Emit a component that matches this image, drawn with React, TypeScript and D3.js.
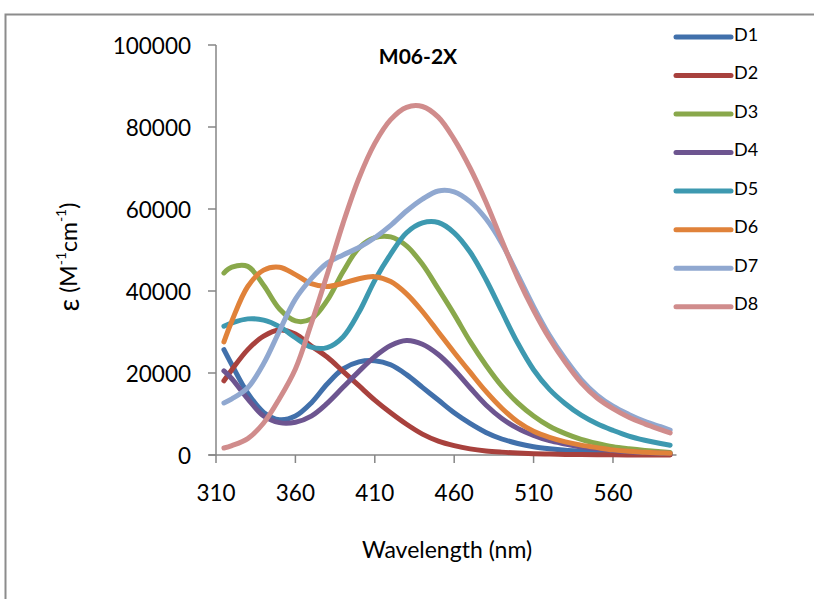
import React from "react";
import * as d3 from "d3";

const wavelengths = [315, 320, 330, 340, 350, 360, 370, 380, 390, 400, 410, 420, 430, 440, 450, 460, 470, 480, 490, 500, 510, 520, 530, 540, 550, 560, 570, 580, 590, 596];

const D1 = [25700, 22000, 15100, 10400, 8600, 9500, 12700, 17300, 21000, 22700, 23000, 22000, 19600, 16500, 13400, 10300, 7700, 5500, 3900, 2800, 2000, 1500, 1150, 950, 780, 600, 480, 380, 280, 200];
const D2 = [18100, 20800, 25700, 29000, 30500, 29500, 26600, 23900, 20400, 16900, 13400, 10300, 7500, 5100, 3400, 2300, 1500, 1000, 700, 480, 330, 220, 150, 100, 60, 40, 20, 10, 0, 0];
const D3 = [44400, 45800, 46000, 41400, 35600, 32700, 33200, 37700, 44700, 50500, 53000, 53200, 51000, 46500, 40500, 34300, 27700, 21900, 16800, 12700, 9500, 7000, 5200, 3800, 2800, 2000, 1500, 1100, 800, 600];
const D4 = [20500, 18600, 13700, 9500, 7900, 8000, 9500, 12600, 16500, 20400, 24000, 26700, 27900, 27000, 24500, 20800, 16400, 12200, 8900, 6500, 4800, 3500, 2700, 2000, 1500, 1100, 800, 600, 450, 400];
const D5 = [31400, 32200, 33200, 32900, 31300, 28600, 26300, 26200, 28800, 34800, 42600, 49000, 54200, 56600, 56700, 54200, 49500, 42800, 35000, 27300, 20800, 16000, 12500, 9700, 7600, 6000, 4600, 3600, 2800, 2400];
const D6 = [27600, 32700, 41100, 45100, 45800, 44000, 41800, 41100, 41900, 43000, 43500, 42300, 39300, 35000, 30000, 25000, 20200, 15500, 11400, 8100, 5800, 4300, 3200, 2400, 1800, 1250, 900, 700, 500, 400];
const D7 = [12700, 13700, 16400, 22300, 30300, 38000, 43000, 46800, 48800, 50600, 53000, 56000, 59500, 62400, 64400, 64200, 61800, 57600, 51600, 44000, 36200, 29200, 23400, 18400, 14600, 11900, 9900, 8200, 6900, 6100];
const D8 = [1700, 2300, 4000, 7800, 13800, 21000, 32000, 44000, 56500, 67500, 76000, 81800, 84800, 85000, 82400, 77000, 70000, 61700, 52300, 43200, 35300, 28400, 22600, 17600, 13900, 11300, 9200, 7600, 6200, 5400];

const seriesNames = ["D1", "D2", "D3", "D4", "D5", "D6", "D7", "D8"];
const seriesValues = [D1, D2, D3, D4, D5, D6, D7, D8];
const seriesColors = ["#4170ab", "#a8413d", "#89a84b", "#6d5590", "#3d99b0", "#e0823a", "#90a8d0", "#d08c8c"];

const xTicks = [310, 360, 410, 460, 510, 560];
const yTicks = [0, 20000, 40000, 60000, 80000, 100000];

const title = "M06-2X";
const xTitle = "Wavelength (nm)";

export default function App() {
  const width = 814;
  const height = 599;
  const x = d3.scaleLinear().domain([310, 600]).range([216, 676.5]);
  const y = d3.scaleLinear().domain([0, 100000]).range([455, 45]);
  const line = d3
    .line<number>()
    .x((_, i) => x(wavelengths[i]))
    .y((d) => y(d))
    .curve(d3.curveCatmullRom.alpha(0.5));
  const axisColor = "#868686";
  const font = "Lato, 'Open Sans', sans-serif";
  const legendX1 = 676;
  const legendX2 = 731;
  const legendY = d3.scaleLinear().domain([0, 7]).range([37, 306.7]);

  return (
    <svg
      width={width}
      height={height}
      style={{ position: "absolute", left: 0, top: 0 }}
      viewBox={`0 0 ${width} ${height}`}
    >
      <rect x={0} y={0} width={width} height={height} fill="#fff" />
      <rect x={5.5} y={14.5} width={830} height={620} fill="none" stroke="#8c8c8c" strokeWidth={2} />

      {/* y axis */}
      <line x1={216} x2={216} y1={y(100000)} y2={y(0)} stroke={axisColor} strokeWidth={1.5} />
      {yTicks.map((t) => (
        <g key={t}>
          <line x1={208} x2={216} y1={y(t)} y2={y(t)} stroke={axisColor} strokeWidth={1.5} />
          <text x={191} y={y(t)} textAnchor="end" dominantBaseline="central" fontFamily={font} fontSize={22.5} fill="#000">
            {t}
          </text>
        </g>
      ))}

      {/* x axis */}
      <line x1={209} x2={x(600)} y1={y(0)} y2={y(0)} stroke={axisColor} strokeWidth={1.5} />
      {xTicks.map((t) => (
        <g key={t}>
          <line x1={x(t)} x2={x(t)} y1={y(0)} y2={y(0) + 8} stroke={axisColor} strokeWidth={1.5} />
          <text x={x(t)} y={492} textAnchor="middle" dominantBaseline="central" fontFamily={font} fontSize={22.5} fill="#000">
            {t}
          </text>
        </g>
      ))}

      {/* series */}
      {seriesValues.map((vals, i) => (
        <path
          key={seriesNames[i]}
          d={line(vals) || ""}
          fill="none"
          stroke={seriesColors[i]}
          strokeWidth={5}
          strokeLinecap="round"
          strokeLinejoin="round"
        />
      ))}

      {/* title */}
      <text x={418} y={55} textAnchor="middle" dominantBaseline="central" fontFamily={font} fontWeight="bold" fontSize={21} fill="#000">
        {title}
      </text>

      {/* axis titles */}
      <text x={447} y={549} textAnchor="middle" dominantBaseline="central" fontFamily={font} fontSize={23} fill="#000">
        {xTitle}
      </text>
      <text
        transform="translate(68,257) rotate(-90)"
        textAnchor="middle"
        dominantBaseline="central"
        fontFamily={font}
        fontSize={23}
        fill="#000"
      >
        <tspan fontSize={28}>ε</tspan>
        <tspan> (M</tspan>
        <tspan dy={-8} fontSize={14}>-1</tspan>
        <tspan dy={8}>cm</tspan>
        <tspan dy={-8} fontSize={14}>-1</tspan>
        <tspan dy={8}>)</tspan>
      </text>

      {/* legend */}
      {seriesNames.map((n, i) => (
        <g key={n}>
          <line
            x1={legendX1}
            x2={legendX2}
            y1={legendY(i)}
            y2={legendY(i)}
            stroke={seriesColors[i]}
            strokeWidth={5}
            strokeLinecap="round"
          />
          <text x={734} y={legendY(i) + 3.5} fontFamily={font} fontSize={18} fill="#000">
            {n}
          </text>
        </g>
      ))}
    </svg>
  );
}
